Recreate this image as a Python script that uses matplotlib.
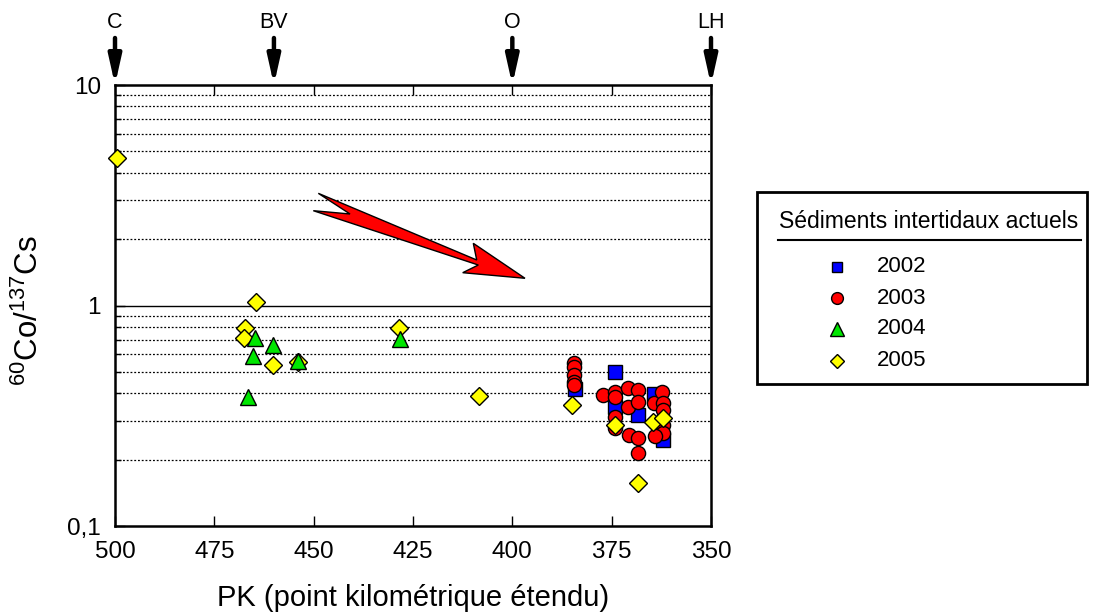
import matplotlib
matplotlib.use("Agg")
import matplotlib.pyplot as plt
from matplotlib.lines import Line2D
from matplotlib.patches import Polygon, Rectangle
from matplotlib.ticker import FixedLocator, NullFormatter
import matplotlib.transforms as mtransforms

plt.rcParams['font.family'] = ['Liberation Sans', 'DejaVu Sans']
plt.rcParams['mathtext.fontset'] = 'custom'
plt.rcParams['mathtext.rm'] = 'Liberation Sans'
plt.rcParams['mathtext.it'] = 'Liberation Sans'
plt.rcParams['mathtext.bf'] = 'Liberation Sans'

# ---- data ----
x2002 = [384.2, 374.2, 374.2, 368.4, 364.3, 362.1]
y2002 = [0.42, 0.499, 0.347, 0.318, 0.397, 0.245]

x2003 = [384.5, 384.5, 384.5, 384.5, 384.5, 377.2, 374.2, 374.2, 374.2, 374.2,
         370.9, 370.9, 368.4, 368.4, 370.6, 368.4, 368.4, 364.3, 362.3, 362.1,
         362.1, 362.1, 362.1, 364.0]
y2003 = [0.548, 0.526, 0.484, 0.45, 0.436, 0.393, 0.405, 0.384, 0.313, 0.278,
         0.422, 0.347, 0.414, 0.366, 0.259, 0.251, 0.214, 0.361, 0.405, 0.361,
         0.336, 0.288, 0.264, 0.256]

x2004 = [464.8, 460.2, 465.3, 453.9, 466.5, 428.3]
y2004 = [0.712, 0.662, 0.59, 0.56, 0.385, 0.705]

x2005 = [499.5, 464.5, 467.3, 467.5, 460.2, 453.9, 428.5, 408.4, 385.0, 374.2,
         368.4, 364.6, 362.1]
y2005 = [4.67, 1.037, 0.791, 0.712, 0.537, 0.555, 0.791, 0.389, 0.354, 0.288,
         0.157, 0.296, 0.309]

site_pos = [500, 460, 400, 350]
site_labels = ['C', 'BV', 'O', 'LH']

x_ticks = [500, 475, 450, 425, 400, 375, 350]
y_ticks = [0.1, 1, 10]
y_ticklabels = ['0,1', '1', '10']

years = ['2002', '2003', '2004', '2005']

# ---- figure ----
W, H = 1093, 613
fig = plt.figure(figsize=(W / 100, H / 100), dpi=100)
ax = fig.add_axes([115 / W, 1 - 526 / H, 596 / W, 441 / H])

ax.set_xlim(500, 350)
ax.set_yscale('log')
ax.set_ylim(0.1, 10)

# grid lines
minor_vals = [m * d for d in (0.1, 1) for m in range(2, 10)]
for v in minor_vals:
    ax.axhline(v, color='black', lw=0.9, ls=(0, (1.5, 1.5)), zorder=1)
ax.axhline(1, color='black', lw=1.0, zorder=1)

ax.yaxis.set_major_locator(FixedLocator(y_ticks))
ax.set_yticklabels(y_ticklabels)
ax.yaxis.set_minor_locator(FixedLocator(minor_vals))
ax.yaxis.set_minor_formatter(NullFormatter())
ax.set_xticks(x_ticks)
ax.set_xticklabels([str(t) for t in x_ticks])

ax.tick_params(axis='both', which='major', direction='in', length=7, width=1,
               labelsize=17.5, top=True)
ax.tick_params(axis='x', which='major', pad=11)
ax.tick_params(axis='y', which='major', pad=10)
ax.tick_params(axis='y', which='minor', direction='in', length=4, width=1)
for s in ax.spines.values():
    s.set_linewidth(1.8)

common = dict(linestyle='none', markeredgecolor='black', markeredgewidth=1.0,
              zorder=3, clip_on=False)
ax.plot(x2002, y2002, marker='s', markersize=9.4, markerfacecolor='#0000ff', **common)
ax.plot(x2003, y2003, marker='o', markersize=10.2, markerfacecolor='#ff0000', **common)
ax.plot(x2005, y2005, marker='D', markersize=8.8, markerfacecolor='#ffff00', **common)
ax.plot(x2004, y2004, marker='^', markersize=11.5, markerfacecolor='#00e600', **common)

# red trend arrow (axes fraction)
arrow_pts = [(0.3411, 0.7544), (0.6069, 0.6032), (0.6012, 0.6410), (0.6879, 0.5617),
             (0.5834, 0.5744), (0.6096, 0.5918), (0.3327, 0.7150), (0.3943, 0.7075)]
ax.add_patch(Polygon(arrow_pts, closed=True, transform=ax.transAxes,
                     facecolor='#ff0000', edgecolor='black', lw=1.0, zorder=4))

# site arrows on top
trans = mtransforms.blended_transform_factory(ax.transData, ax.transAxes)
for p, lab in zip(site_pos, site_labels):
    ax.annotate('', xy=(p, 1.0), xycoords=trans, xytext=(0, 47),
                textcoords='offset pixels',
                arrowprops=dict(arrowstyle='-|>,head_length=1.7,head_width=0.38',
                                lw=3.2, color='black', shrinkA=0, shrinkB=0),
                annotation_clip=False)
    ax.annotate(lab, xy=(p, 1.0), xycoords=trans, xytext=(0, 63),
                textcoords='offset pixels', ha='center', va='center', fontsize=15.5,
                annotation_clip=False)

# axis labels
fig.text(413 / W, 1 - 598 / H, 'PK (point kilométrique étendu)', ha='center',
         va='center', fontsize=21)
fig.text(29 / W, 1 - 311 / H, r'$^{60}$Co/$^{137}$Cs', ha='center', va='center',
         fontsize=22.5, rotation=90)

# legend (manual)
fig.add_artist(Rectangle((757 / W, 1 - 384 / H), 330 / W, 192 / H,
                         transform=fig.transFigure, facecolor='white',
                         edgecolor='black', lw=2))
fig.text(929 / W, 1 - 221 / H, 'Sédiments intertidaux actuels', ha='center',
         va='center', fontsize=16.5)
fig.add_artist(Line2D([778 / W, 1081 / W], [1 - 240 / H, 1 - 240 / H],
                      transform=fig.transFigure, color='black', lw=1.5))
leg_markers = [('s', '#0000ff', 7.5), ('o', '#ff0000', 8.5), ('^', '#00e600', 10),
               ('D', '#ffff00', 7.5)]
leg_y = [267, 298, 329, 361]
for (m, c, ms), yy, lab in zip(leg_markers, leg_y, years):
    fig.add_artist(Line2D([837 / W], [1 - yy / H], transform=fig.transFigure,
                          marker=m, markersize=ms, markerfacecolor=c,
                          markeredgecolor='black', markeredgewidth=1.0,
                          linestyle='none'))
    fig.text(877 / W, 1 - yy / H, lab, ha='left', va='center', fontsize=16)

fig.savefig('out.png', dpi=100)
